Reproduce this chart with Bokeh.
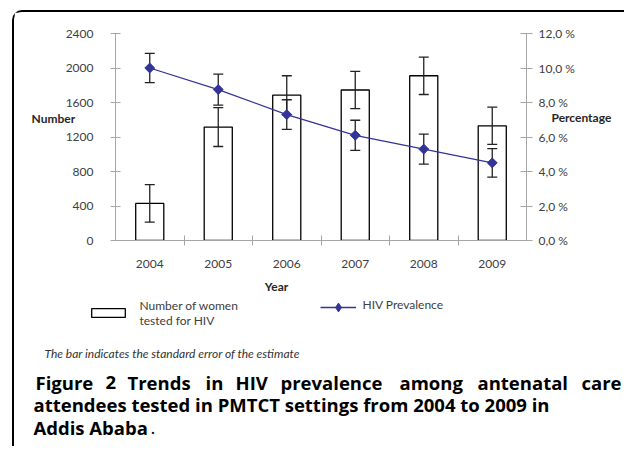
from bokeh.plotting import figure
from bokeh.models import (Range1d, LinearAxis, FixedTicker, Label, Legend, LegendItem)
from bokeh.core.properties import value
from bokeh.embed import file_html
from bokeh.resources import INLINE

# ---------------- data ----------------
years = ["2004", "2005", "2006", "2007", "2008", "2009"]
women_tested = [430, 1315, 1685, 1745, 1910, 1330]
women_se = [218, 225, 225, 217, 217, 216]
hiv_prevalence = [10.0, 8.75, 7.3, 6.1, 5.3, 4.5]
hiv_se = [0.85, 0.9, 0.86, 0.87, 0.87, 0.83]
left_ticks = [0, 400, 800, 1200, 1600, 2000, 2400]
right_ticks = [0, 2, 4, 6, 8, 10, 12]
right_tick_labels = ["0,0 %", "2,0 %", "4,0 %", "6,0 %", "8,0 %", "10,0 %", "12,0 %"]

xpos = [i + 0.5 for i in range(len(years))]
boundaries = [i for i in range(1, len(years))]
w_hi = [v + e for v, e in zip(women_tested, women_se)]
w_lo = [v - e for v, e in zip(women_tested, women_se)]
h_hi = [v + e for v, e in zip(hiv_prevalence, hiv_se)]
h_lo = [v - e for v, e in zip(hiv_prevalence, hiv_se)]

FONT = "Lato"
CAP = "Open Sans"
AXIS_GRAY = "#a6a6a6"
TXT = "#404040"
BLUE = "#333399"
W = 612

# ================= chart figure =================
p = figure(width=W, height=286, x_range=Range1d(0, len(years)), y_range=Range1d(0, 2400),
           output_backend="svg", toolbar_location=None,
           min_border_left=101, min_border_right=100, min_border_top=21, min_border_bottom=58,
           margin=(10, 0, 0, 12),
           styles={"border-top": "2px solid black", "border-left": "2px solid black",
                   "border-top-left-radius": "10px"})
p.extra_y_ranges = {"pct": Range1d(0, 12)}
p.outline_line_color = None
p.xgrid.visible = False
p.ygrid.visible = False

xa = p.xaxis[0]
xa.ticker = FixedTicker(ticks=xpos, minor_ticks=boundaries)
xa.major_label_overrides = {x: y for x, y in zip(xpos, years)}
xa.major_tick_in = 0
xa.major_tick_out = 0
xa.minor_tick_in = 5
xa.minor_tick_out = 5
xa.minor_tick_line_color = AXIS_GRAY
xa.axis_line_color = AXIS_GRAY
xa.major_label_standoff = 14
xa.major_label_text_font = FONT
xa.major_label_text_font_size = "12px"
xa.major_label_text_color = TXT

ya = p.yaxis[0]
ya.ticker = FixedTicker(ticks=left_ticks)
ya.major_tick_in = 5
ya.major_tick_out = 5
ya.minor_tick_line_color = None
ya.major_tick_line_color = AXIS_GRAY
ya.axis_line_color = AXIS_GRAY
ya.major_label_standoff = 17
ya.major_label_text_font = FONT
ya.major_label_text_font_size = "12px"
ya.major_label_text_color = TXT

ra = LinearAxis(y_range_name="pct", ticker=FixedTicker(ticks=right_ticks),
                major_label_overrides={t: s for t, s in zip(right_ticks, right_tick_labels)})
ra.major_tick_in = 6
ra.major_tick_out = 6
ra.minor_tick_line_color = None
ra.major_tick_line_color = AXIS_GRAY
ra.axis_line_color = AXIS_GRAY
ra.major_label_standoff = 6
ra.major_label_text_font = FONT
ra.major_label_text_font_size = "12px"
ra.major_label_text_color = TXT
p.add_layout(ra, "right")

bar_style = dict(width=0.41, fill_color="white", line_color="black", line_width=1.3)
line_style = dict(line_color=BLUE, line_width=1.3)

p.vbar(x=xpos, top=women_tested, **bar_style)
p.segment(x0=xpos, y0=w_lo, x1=xpos, y1=w_hi, line_color="#222222", line_width=1.3)
p.scatter(x=xpos + xpos, y=w_hi + w_lo, marker="dash", size=10, line_color="#222222", line_width=1.3)
p.segment(x0=xpos, y0=h_lo, x1=xpos, y1=h_hi, line_color="#222222", line_width=1.3,
          y_range_name="pct")
p.scatter(x=xpos + xpos, y=h_hi + h_lo, marker="dash", size=10, line_color="#222222",
          line_width=1.3, y_range_name="pct")
p.line(x=xpos, y=hiv_prevalence, y_range_name="pct", **line_style)
p.scatter(x=xpos, y=hiv_prevalence, y_range_name="pct", marker="square", angle=0.7854, size=7,
          fill_color=BLUE, line_color=BLUE)


def lab(fig, text, x, y, place=None, size="12px", style="normal", align="left",
        color=TXT, font=FONT):
    l = Label(x=x, y=y, x_units="canvas", y_units="canvas", text=text,
              text_font=font, text_font_size=size, text_font_style=style,
              text_align=align, text_baseline="middle", text_color=color)
    if place:
        fig.add_layout(l, place)
    else:
        fig.add_layout(l)


lab(p, "Number", 15, 104, "left", style="bold", color="#262626")
lab(p, "Percentage", 535, 103, "above", style="bold", color="#262626")
lab(p, "Year", 260, 272, "below", style="bold", align="center", color="#262626")

# ================= legend / caption figure =================
q = figure(width=W, height=150, x_range=Range1d(0, 1), y_range=Range1d(0, 1),
           output_backend="svg", toolbar_location=None, x_axis_type=None, y_axis_type=None,
           min_border=0, min_border_left=0, min_border_right=0, min_border_top=0,
           min_border_bottom=0, margin=(0, 0, 0, 12),
           styles={"border-left": "2px solid black"})
q.outline_line_color = None
q.xgrid.visible = False
q.ygrid.visible = False

kb = q.vbar(x=xpos, top=women_tested, visible=False, **bar_style)
kl = q.line(x=xpos, y=hiv_prevalence, visible=False, **line_style)
km = q.scatter(x=xpos, y=hiv_prevalence, visible=False, marker="diamond",
               fill_color=BLUE, line_color=BLUE)

common = dict(padding=0, margin=0, spacing=0, label_standoff=0, label_height=0, label_width=0,
              border_line_color=None, background_fill_alpha=0, inactive_fill_alpha=0,
              label_text_font_size="1px")
q.add_layout(Legend(items=[LegendItem(label=value(" "), renderers=[kb])],
                    location=(73, 128), glyph_width=42, glyph_height=11, **common))
q.add_layout(Legend(items=[LegendItem(label=value(" "), renderers=[kl, km])],
                    location=(306, 128), glyph_width=36, glyph_height=22, **common))

lab(q, "Number of women", 123, 9)
lab(q, "tested for HIV", 123, 24)
lab(q, "HIV Prevalence", 346, 8)
lab(q, "The bar indicates the standard error of the estimate", 28, 57, style="italic",
    color="#333333")

line1 = ["Figure", "2", "Trends", "in", "HIV", "prevalence", "among", "antenatal", "care"]
line1_x = [19, 89, 111, 189, 219, 264, 383, 461, 565]
for wd, xx in zip(line1, line1_x):
    lab(q, wd, xx, 86, size="18.5px", style="bold", color="black", font=CAP)
lab(q, "attendees tested in PMTCT settings from 2004 to 2009 in", 17, 108, size="18.5px",
    style="bold", color="black", font=CAP)
lab(q, "Addis Ababa", 17, 131, size="18.5px", style="bold", color="black", font=CAP)
lab(q, ".", 134, 131, size="18.5px", color="black", font=CAP)

open("out.html", "w").write(file_html([p, q], INLINE))
